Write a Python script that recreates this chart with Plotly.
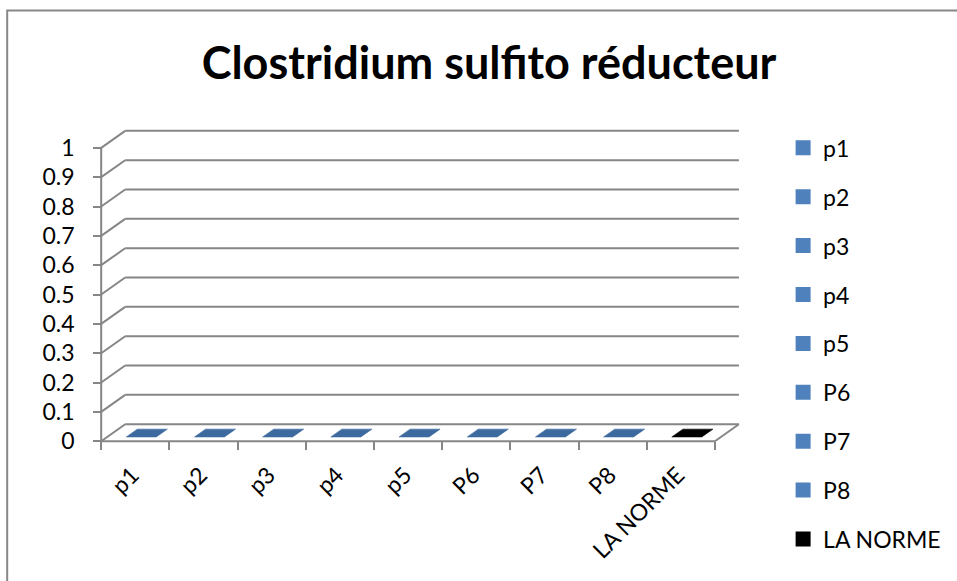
import plotly.graph_objects as go

# ---------------- data ----------------
categories = ["p1", "p2", "p3", "p4", "p5", "P6", "P7", "P8", "LA NORME"]
values = [0, 0, 0, 0, 0, 0, 0, 0, 0]
front_colors = ["#4F81BD"] * 8 + ["#000000"]
top_colors = ["#3C6A9F"] * 8 + ["#000000"]
side_colors = ["#355E8E"] * 8 + ["#000000"]
y_tick_values = [0, 0.1, 0.2, 0.3, 0.4, 0.5, 0.6, 0.7, 0.8, 0.9, 1]
y_tick_labels = ["0", "0.1", "0.2", "0.3", "0.4", "0.5", "0.6", "0.7", "0.8", "0.9", "1"]
chart_title = "Clostridium sulfito réducteur"

# ---------------- geometry ----------------
W, H = 957, 581
SX, SY = 68.2, 293.5          # px per x unit / y unit
X0PX, Y0PX = 101, 441         # pixel of x=-0.5 / y=0
DX, DY = 24 / SX, 17 / SY     # depth offset of the back wall
xr = [-0.62, 8.5 + DX + 0.06]
yr = [-0.03, 1 + DY + 0.02]
L = X0PX - (-0.5 - xr[0]) * SX
PW = (xr[1] - xr[0]) * SX
R = W - L - PW
T = Y0PX - yr[1] * SY
PH = (yr[1] - yr[0]) * SY
B = H - T - PH


def pxx(px):
    return (px - L) / PW


def pyy(py):
    return (H - B - py) / PH


BW = 0.44            # bar width (category units)
D0, D1 = 0.25, 0.71  # bar depth fraction

GRID = "#868686"
FONT = "Lato"

fig = go.Figure()

for i, (cat, v) in enumerate(zip(categories, values)):
    # legend entry (front-plane bar of zero height)
    fig.add_trace(go.Bar(
        x=[i], y=[v], name=cat, legendgroup=cat, width=1e-6,
        marker=dict(color=front_colors[i], line=dict(color=front_colors[i], width=3)),
        hoverinfo="skip"))
    xl, xh = i - BW / 2, i + BW / 2
    # side face
    fig.add_trace(go.Scatter(
        x=[xh + D0 * DX, xh + D1 * DX, xh + D1 * DX, xh + D0 * DX, xh + D0 * DX],
        y=[D0 * DY, D1 * DY, v + D1 * DY, v + D0 * DY, D0 * DY],
        fill="toself", mode="lines", line=dict(width=0), fillcolor=side_colors[i],
        legendgroup=cat, showlegend=False, hoverinfo="skip"))
    # front face
    fig.add_trace(go.Scatter(
        x=[xl + D0 * DX, xh + D0 * DX, xh + D0 * DX, xl + D0 * DX, xl + D0 * DX],
        y=[D0 * DY, D0 * DY, v + D0 * DY, v + D0 * DY, D0 * DY],
        fill="toself", mode="lines", line=dict(width=0), fillcolor=front_colors[i],
        legendgroup=cat, showlegend=False, hoverinfo="skip"))
    # top face
    fig.add_trace(go.Scatter(
        x=[xl + D0 * DX, xh + D0 * DX, xh + D1 * DX, xl + D1 * DX, xl + D0 * DX],
        y=[v + D0 * DY, v + D0 * DY, v + D1 * DY, v + D1 * DY, v + D0 * DY],
        fill="toself", mode="lines", line=dict(width=0.6, color=top_colors[i]),
        fillcolor=top_colors[i],
        legendgroup=cat, showlegend=False, hoverinfo="skip"))

shapes = []
xmin, xmax = -0.5, len(categories) - 0.5
for yv in y_tick_values:
    shapes.append(dict(type="line", xref="x", yref="y", x0=xmin + DX, x1=xmax + DX,
                       y0=yv + DY, y1=yv + DY, line=dict(color=GRID, width=2), layer="below"))
    shapes.append(dict(type="line", xref="x", yref="y", x0=xmin, x1=xmin + DX,
                       y0=yv, y1=yv + DY, line=dict(color=GRID, width=2), layer="below"))
# front y axis line
shapes.append(dict(type="line", xref="x", yref="y", x0=xmin, x1=xmin, y0=0, y1=1,
                   line=dict(color=GRID, width=2)))
# floor front edge and right edge
shapes.append(dict(type="line", xref="x", yref="y", x0=xmin, x1=xmax, y0=0, y1=0,
                   line=dict(color=GRID, width=2)))
shapes.append(dict(type="line", xref="x", yref="y", x0=xmax, x1=xmax + DX, y0=0, y1=DY,
                   line=dict(color=GRID, width=2)))
# outer chart border
shapes.append(dict(type="rect", xref="paper", yref="paper",
                   x0=pxx(7), x1=pxx(W + 20), y0=pyy(H + 20), y1=pyy(10),
                   line=dict(color="#888888", width=2), fillcolor="rgba(0,0,0,0)"))

fig.update_layout(
    width=W, height=H,
    margin=dict(l=L, r=R, t=T, b=B, autoexpand=False),
    paper_bgcolor="white", plot_bgcolor="white",
    barmode="overlay",
    showlegend=True,
    shapes=shapes,
    title=dict(text=chart_title, xref="container", yref="container",
               x=489 / W, y=1 - 63 / H, xanchor="center", yanchor="middle",
               font=dict(family=FONT, size=45, color="black", weight="bold")),
    legend=dict(x=pxx(783), y=pyy(126), xanchor="left", yanchor="top",
                font=dict(family=FONT, size=23, color="black"),
                tracegroupgap=16, bgcolor="rgba(0,0,0,0)", traceorder="grouped",
                maxheight=570),
    xaxis=dict(range=xr, anchor="free", position=pyy(Y0PX), showgrid=False,
               zeroline=False, showline=False, tickmode="array",
               tickvals=list(range(len(categories))), ticktext=categories,
               tickangle=-45, ticks="", ticklabelstandoff=15, ticklabelshift=-3,
               tickfont=dict(family=FONT, size=23, color="black"),
               minor=dict(tick0=-0.5, dtick=1, ticks="outside", ticklen=8,
                          tickcolor=GRID, tickwidth=2, showgrid=False)),
    yaxis=dict(range=yr, anchor="free", position=pxx(X0PX), showgrid=False,
               zeroline=False, showline=False, tickmode="array",
               tickvals=y_tick_values, ticktext=y_tick_labels,
               ticks="outside", ticklen=8, tickcolor=GRID, tickwidth=2,
               ticklabelstandoff=14,
               tickfont=dict(family=FONT, size=23, color="black")),
)

fig.write_html("out.html", config={"displayModeBar": False},
               post_script="document.body.style.margin='0';document.body.style.overflow='hidden';")
